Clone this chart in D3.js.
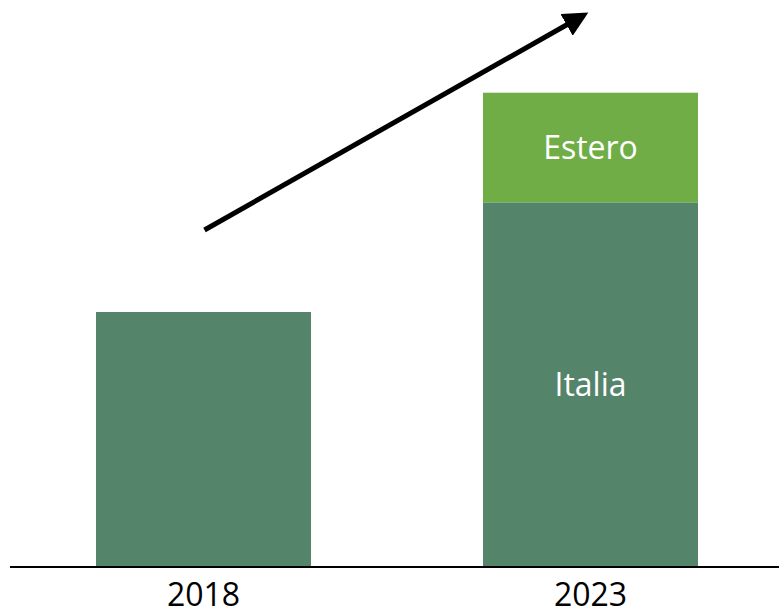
<!DOCTYPE html>
<html>
<head>
<meta charset="utf-8">
<script src="https://cdn.jsdelivr.net/npm/d3@7"></script>
<style>
    body { margin: 0; background: #fff; }
    svg { display: block; }
</style>
</head>
<body>
<div id="chart"></div>
<script>
// values (index, 2018 = 100)
const years = ['2018', '2023'];
const italia = [100, 143];
const estero = [0, 43];
const segment_labels = ['Italia', 'Estero'];

const width = 779;
const height = 613;
const baseline = 567;

const svg = d3.select('#chart')
    .append('svg')
    .attr('width', width)
    .attr('height', height);

const x_scale = d3.scaleBand()
    .domain(years)
    .range([10, 784])
    .paddingInner(0.4444)
    .paddingOuter(0.2222);

const y_scale = d3.scaleLinear()
    .domain([0, 200])
    .range([baseline, baseline - 510]);

const stack_data = years.map(function (y, i) {
    return {year: y, Italia: italia[i], Estero: estero[i]};
});
const series = d3.stack().keys(segment_labels)(stack_data);
const colors = {Italia: '#548469', Estero: '#70AD47'};

series.forEach(function (s) {
    svg.append('g')
        .selectAll('rect')
        .data(s)
        .enter()
        .append('rect')
        .attr('x', function (d) { return x_scale(d.data.year); })
        .attr('y', function (d) { return y_scale(d[1]); })
        .attr('width', x_scale.bandwidth())
        .attr('height', function (d) { return y_scale(d[0]) - y_scale(d[1]); })
        .attr('fill', colors[s.key]);
});

// segment labels on the 2023 bar
series.forEach(function (s) {
    const d = s[1];
    svg.append('text')
        .attr('x', x_scale(d.data.year) + x_scale.bandwidth() / 2)
        .attr('y', (y_scale(d[0]) + y_scale(d[1])) / 2 + 11)
        .attr('text-anchor', 'middle')
        .attr('font-family', 'Open Sans, sans-serif')
        .attr('font-size', '32px')
        .attr('fill', '#fff')
        .text(s.key);
});

// baseline axis
const x_axis = d3.axisBottom(x_scale).tickSize(0).tickPadding(0);
const axis_g = svg.append('g')
    .attr('transform', 'translate(0,' + baseline + ')')
    .call(x_axis);
axis_g.select('.domain')
    .attr('d', 'M10,0H779')
    .attr('stroke', '#000')
    .attr('stroke-width', 2);
axis_g.selectAll('text')
    .attr('y', 39)
    .attr('dy', null)
    .attr('font-family', 'Open Sans, sans-serif')
    .attr('font-size', '32px')
    .attr('fill', '#000');

// growth arrow
svg.append('defs').append('marker')
    .attr('id', 'head')
    .attr('viewBox', '0 0 10 10')
    .attr('refX', 8)
    .attr('refY', 5)
    .attr('markerWidth', 5)
    .attr('markerHeight', 5)
    .attr('markerUnits', 'strokeWidth')
    .attr('orient', 'auto')
    .append('path')
    .attr('d', 'M0,0L10,5L0,10Z')
    .attr('fill', '#000');

svg.append('line')
    .attr('x1', x_scale('2018') + x_scale.bandwidth() / 2 + 1)
    .attr('y1', 230)
    .attr('x2', 584)
    .attr('y2', 15)
    .attr('stroke', '#000')
    .attr('stroke-width', 5)
    .attr('marker-end', 'url(#head)');
</script>
</body>
</html>
